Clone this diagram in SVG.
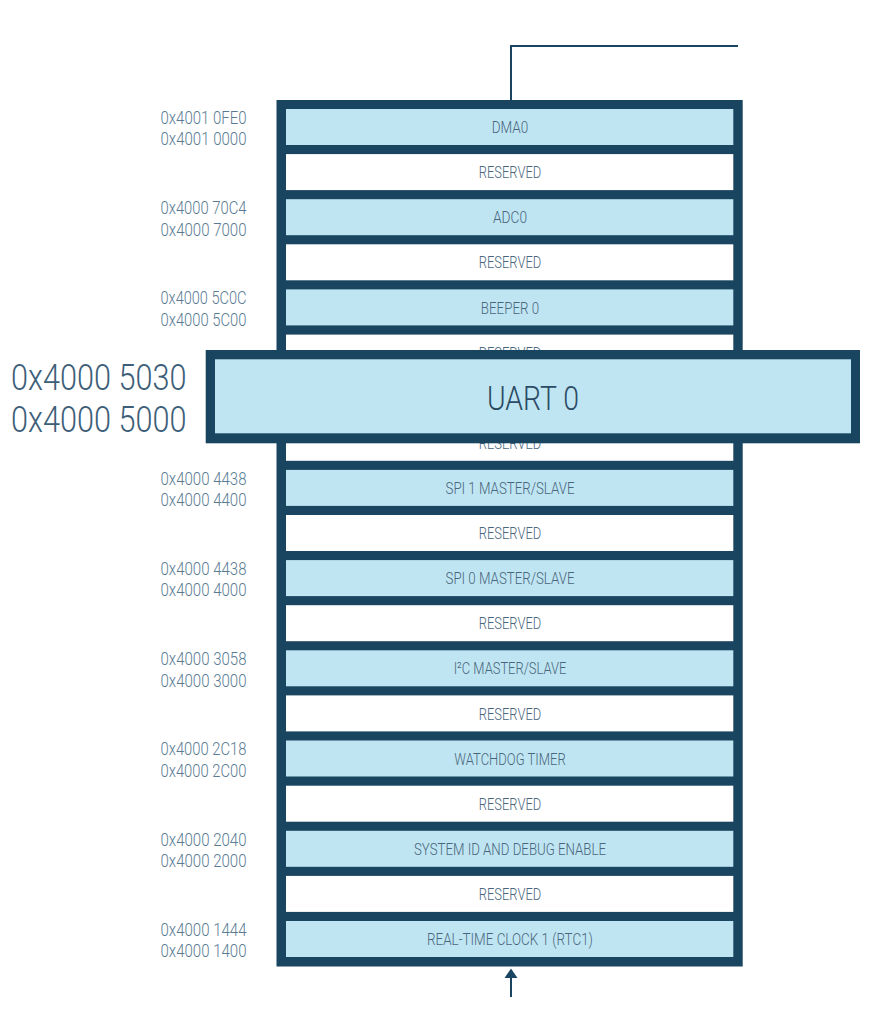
<svg xmlns="http://www.w3.org/2000/svg" width="874" height="1009" viewBox="0 0 874 1009">
<defs>
<style>
.frame{fill:#1a4561}
.per{fill:#bfe5f2}
.res{fill:#ffffff}
.lbl{font-family:Roboto,"Liberation Sans",sans-serif;font-weight:300;font-size:17px;fill:#4a667c;text-anchor:middle}
.adr{font-family:Roboto,"Liberation Sans",sans-serif;font-weight:300;font-size:19px;fill:#5a7b93;text-anchor:end}
.big{font-family:Roboto,"Liberation Sans",sans-serif;font-weight:300;font-size:36px;fill:#3d5e78;text-anchor:end}
.uart{font-family:Roboto,"Liberation Sans",sans-serif;font-weight:300;font-size:34px;fill:#2b4a63;text-anchor:middle}
.wire{fill:none;stroke:#1a4561;stroke-width:2}
</style>
</defs>
<rect width="874" height="1009" fill="#ffffff"/>
<g id="connectors">
<path class="wire" d="M738,46 H511 V100"/>
<path class="wire" d="M511,997 V977"/>
<path d="M504.5,978 L511,968.5 L517.5,978 Z" fill="#1a4561"/>
</g>
<g id="memory-map">
<rect class="frame" x="276.5" y="100" width="466.2" height="866.5"/>
<g id="dma0"><rect class="per" x="286" y="109" width="447.3" height="36"/><text class="lbl" x="510" y="133.1" textLength="36.5" lengthAdjust="spacingAndGlyphs">DMA0</text>
<text class="adr" x="246.5" y="123.8" textLength="86" lengthAdjust="spacingAndGlyphs">0x4001 0FE0</text><text class="adr" x="246.5" y="145.3" textLength="86" lengthAdjust="spacingAndGlyphs">0x4001 0000</text></g>
<g id="reserved1"><rect class="res" x="286" y="154.1" width="447.3" height="36"/><text class="lbl" x="510" y="178.2" textLength="62.4" lengthAdjust="spacingAndGlyphs">RESERVED</text></g>
<g id="adc0"><rect class="per" x="286" y="199.2" width="447.3" height="36"/><text class="lbl" x="510" y="223.3" textLength="34" lengthAdjust="spacingAndGlyphs">ADC0</text>
<text class="adr" x="246.5" y="214" textLength="86" lengthAdjust="spacingAndGlyphs">0x4000 70C4</text><text class="adr" x="246.5" y="235.5" textLength="86" lengthAdjust="spacingAndGlyphs">0x4000 7000</text></g>
<g id="reserved2"><rect class="res" x="286" y="244.3" width="447.3" height="36"/><text class="lbl" x="510" y="268.4" textLength="62.4" lengthAdjust="spacingAndGlyphs">RESERVED</text></g>
<g id="beeper0"><rect class="per" x="286" y="289.4" width="447.3" height="36"/><text class="lbl" x="510" y="313.5" textLength="58.3" lengthAdjust="spacingAndGlyphs">BEEPER 0</text>
<text class="adr" x="246.5" y="304.2" textLength="86" lengthAdjust="spacingAndGlyphs">0x4000 5C0C</text><text class="adr" x="246.5" y="325.7" textLength="86" lengthAdjust="spacingAndGlyphs">0x4000 5C00</text></g>
<g id="reserved3"><rect class="res" x="286" y="334.6" width="447.3" height="36"/><text class="lbl" x="510" y="358.7" textLength="62.4" lengthAdjust="spacingAndGlyphs">RESERVED</text></g>
<g id="reserved4"><rect class="res" x="286" y="424.8" width="447.3" height="36"/><text class="lbl" x="510" y="448.9" textLength="62.4" lengthAdjust="spacingAndGlyphs">RESERVED</text></g>
<g id="spi1"><rect class="per" x="286" y="469.9" width="447.3" height="36"/><text class="lbl" x="510" y="494" textLength="129" lengthAdjust="spacingAndGlyphs">SPI 1 MASTER/SLAVE</text>
<text class="adr" x="246.5" y="484.7" textLength="86" lengthAdjust="spacingAndGlyphs">0x4000 4438</text><text class="adr" x="246.5" y="506.2" textLength="86" lengthAdjust="spacingAndGlyphs">0x4000 4400</text></g>
<g id="reserved5"><rect class="res" x="286" y="515" width="447.3" height="36"/><text class="lbl" x="510" y="539.1" textLength="62.4" lengthAdjust="spacingAndGlyphs">RESERVED</text></g>
<g id="spi0"><rect class="per" x="286" y="560.1" width="447.3" height="36"/><text class="lbl" x="510" y="584.2" textLength="129" lengthAdjust="spacingAndGlyphs">SPI 0 MASTER/SLAVE</text>
<text class="adr" x="246.5" y="574.9" textLength="86" lengthAdjust="spacingAndGlyphs">0x4000 4438</text><text class="adr" x="246.5" y="596.4" textLength="86" lengthAdjust="spacingAndGlyphs">0x4000 4000</text></g>
<g id="reserved6"><rect class="res" x="286" y="605.2" width="447.3" height="36"/><text class="lbl" x="510" y="629.3" textLength="62.4" lengthAdjust="spacingAndGlyphs">RESERVED</text></g>
<g id="i2c"><rect class="per" x="286" y="650.3" width="447.3" height="36"/><text class="lbl" x="510" y="674.4" textLength="112.7" lengthAdjust="spacingAndGlyphs">I²C MASTER/SLAVE</text>
<text class="adr" x="246.5" y="665.1" textLength="86" lengthAdjust="spacingAndGlyphs">0x4000 3058</text><text class="adr" x="246.5" y="686.6" textLength="86" lengthAdjust="spacingAndGlyphs">0x4000 3000</text></g>
<g id="reserved7"><rect class="res" x="286" y="695.4" width="447.3" height="36"/><text class="lbl" x="510" y="719.5" textLength="62.4" lengthAdjust="spacingAndGlyphs">RESERVED</text></g>
<g id="watchdog"><rect class="per" x="286" y="740.5" width="447.3" height="36"/><text class="lbl" x="510" y="764.6" textLength="111.3" lengthAdjust="spacingAndGlyphs">WATCHDOG TIMER</text>
<text class="adr" x="246.5" y="755.3" textLength="86" lengthAdjust="spacingAndGlyphs">0x4000 2C18</text><text class="adr" x="246.5" y="776.8" textLength="86" lengthAdjust="spacingAndGlyphs">0x4000 2C00</text></g>
<g id="reserved8"><rect class="res" x="286" y="785.7" width="447.3" height="36"/><text class="lbl" x="510" y="809.8" textLength="62.4" lengthAdjust="spacingAndGlyphs">RESERVED</text></g>
<g id="sysid"><rect class="per" x="286" y="830.8" width="447.3" height="36"/><text class="lbl" x="510" y="854.9" textLength="192" lengthAdjust="spacingAndGlyphs">SYSTEM ID AND DEBUG ENABLE</text>
<text class="adr" x="246.5" y="845.6" textLength="86" lengthAdjust="spacingAndGlyphs">0x4000 2040</text><text class="adr" x="246.5" y="867.1" textLength="86" lengthAdjust="spacingAndGlyphs">0x4000 2000</text></g>
<g id="reserved9"><rect class="res" x="286" y="875.9" width="447.3" height="36"/><text class="lbl" x="510" y="900" textLength="62.4" lengthAdjust="spacingAndGlyphs">RESERVED</text></g>
<g id="rtc1"><rect class="per" x="286" y="921" width="447.3" height="36"/><text class="lbl" x="510" y="945.1" textLength="166" lengthAdjust="spacingAndGlyphs">REAL-TIME CLOCK 1 (RTC1)</text>
<text class="adr" x="246.5" y="935.8" textLength="86" lengthAdjust="spacingAndGlyphs">0x4000 1444</text><text class="adr" x="246.5" y="957.3" textLength="86" lengthAdjust="spacingAndGlyphs">0x4000 1400</text></g>
</g>
<g id="uart0">
<rect class="frame" x="205.7" y="350" width="654.3" height="93.3"/>
<rect class="per" x="215" y="359.3" width="636" height="74"/>
<text class="uart" x="533" y="410" textLength="92" lengthAdjust="spacingAndGlyphs">UART 0</text>
<text class="big" x="186.5" y="390" textLength="175.5" lengthAdjust="spacingAndGlyphs">0x4000 5030</text>
<text class="big" x="186.5" y="432" textLength="175.5" lengthAdjust="spacingAndGlyphs">0x4000 5000</text>
</g>
</svg>
